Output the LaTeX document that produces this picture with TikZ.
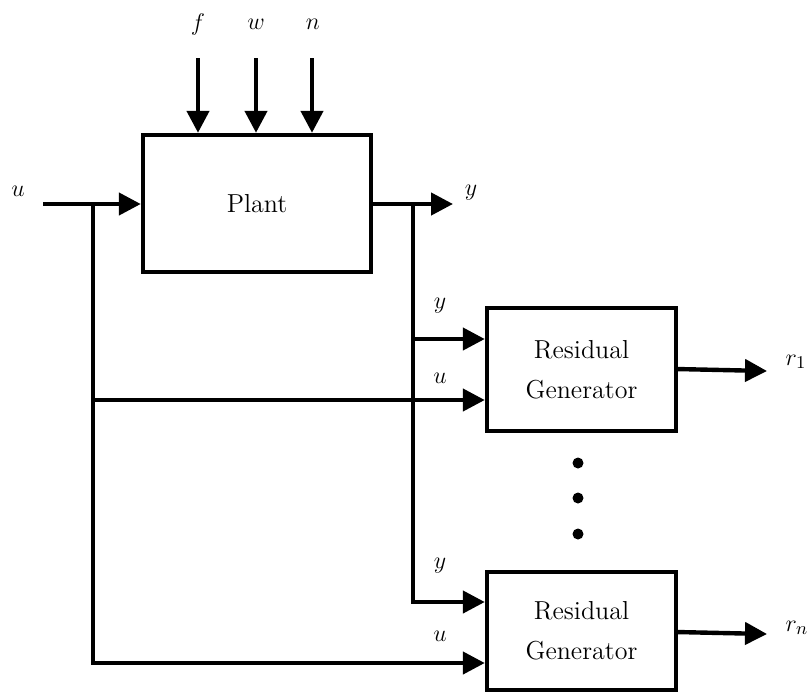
\documentclass[tikz,border=0pt]{standalone}
\usetikzlibrary{arrows.meta}
\begin{document}
\begin{tikzpicture}[x=0.5pt,y=-0.5pt,
  blk/.style={draw,line width=2.2pt,rectangle,inner sep=0pt,align=center,font=\fontsize{13}{20}\selectfont},
  sig/.style={line width=2.2pt,-{Triangle[length=11pt,width=11pt]}},
  wire/.style={line width=2.2pt},
  lab/.style={font=\fontsize{13}{15}\selectfont,inner sep=0pt},
  dot/.style={circle,fill=black,inner sep=0pt,minimum size=5.5pt}]
\useasboundingbox (0,0) rectangle (810,693);
% blocks
\node[blk,minimum width=114pt,minimum height=68.5pt] (plant) at (257,203.5) {Plant};
\node[blk,minimum width=94.5pt,minimum height=61.5pt] (rg1) at (581.5,369.5) {Residual\\Generator};
\node[blk,minimum width=94.5pt,minimum height=59pt] (rg2) at (581.5,631) {Residual\\Generator};
% disturbance inputs
\coordinate (fs) at (198,58);
\coordinate (ws) at (256,58);
\coordinate (ns) at (312,58);
\node[lab] (fl) at (198,24) {$f$};
\node[lab] (wl) at (256,24) {$w$};
\node[lab] (nl) at (313,24) {$n$};
\draw[sig] (fs) -- (fs |- plant.north);
\draw[sig] (ws) -- (ws |- plant.north);
\draw[sig] (ns) -- (ns |- plant.north);
% input u
\coordinate (us) at (43,204);
\coordinate (uj) at (93,204);
\node[lab] (ul) at (18,191) {$u$};
\draw[sig] (us) -- (plant.west |- us);
% output y
\coordinate (yj) at (413,204);
\coordinate (ye) at (453,204);
\node[lab] (yl) at (471,193) {$y$};
\draw[sig] (plant.east |- yj) -- (ye);
% y branch
\coordinate (yb1) at (413,339);
\coordinate (yb2) at (413,602);
\draw[sig] (yj) -- (yb2) -- (rg2.west |- yb2);
\draw[sig] (yb1) -- (rg1.west |- yb1);
\node[lab] (y1l) at (440,306) {$y$};
\node[lab] (y2l) at (440,566) {$y$};
% u branch
\coordinate (ub1) at (93,400);
\coordinate (ub2) at (93,663);
\draw[sig] (uj) -- (ub2) -- (rg2.west |- ub2);
\draw[sig] (ub1) -- (rg1.west |- ub1);
\node[lab] (u1l) at (440,378) {$u$};
\node[lab] (u2l) at (440,636) {$u$};
% outputs
\coordinate (r1s) at (676,369);
\coordinate (r1e) at (767,371);
\coordinate (rns) at (676,632);
\coordinate (rne) at (767,634);
\draw[sig] (r1s) -- (r1e);
\draw[sig] (rns) -- (rne);
\node[lab] (r1l) at (796,362) {$r_1$};
\node[lab] (rnl) at (797,628) {$r_n$};
% dots
\node[dot] (d1) at (578,463) {};
\node[dot] (d2) at (578,498) {};
\node[dot] (d3) at (578,534) {};
\end{tikzpicture}
\end{document}
